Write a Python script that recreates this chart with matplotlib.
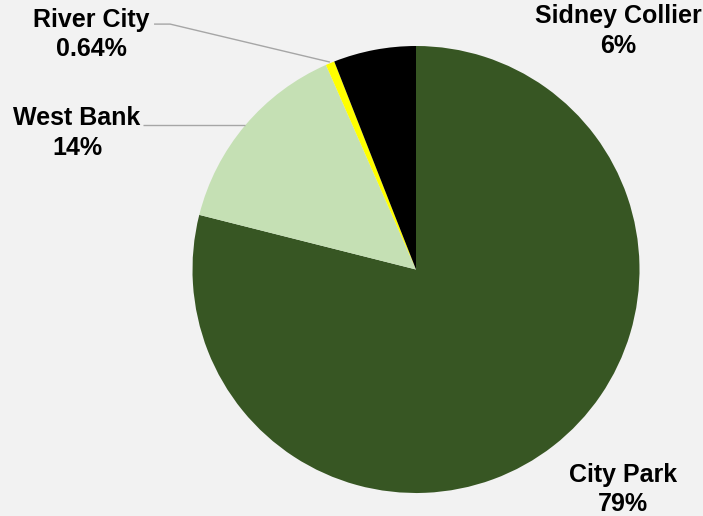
"""Share of total by site - pie chart with outside labels."""
import matplotlib
matplotlib.use("Agg")
import matplotlib.pyplot as plt

# slices, clockwise from 12 o'clock
SITES = ["City Park", "West Bank", "River City", "Sidney Collier"]
SHARES = [78.93, 14.47, 0.64, 5.96]
PCT_LABELS = ["79%", "14%", "0.64%", "6%"]
COLORS = ["#375623", "#c5e0b4", "#ffff00", "#000000"]

# label placement (data units, pie radius = 1) and optional leader lines
LABEL_POS = {
    "City Park": (0.926, -0.985),
    "West Bank": (-1.517, 0.612),
    "River City": (-1.452, 1.052),
    "Sidney Collier": (0.904, 1.066),
}
LEADERS = {
    "West Bank": [(-1.221, 0.647), (-0.765, 0.647)],
    "River City": [(-1.172, 1.098), (-1.10, 1.098), (-0.385, 0.928)],
}

BG = "#f2f2f2"
plt.rcParams["font.family"] = ["Liberation Sans", "DejaVu Sans"]

fig = plt.figure(figsize=(7.03, 5.16), dpi=100, facecolor=BG)
ax = fig.add_axes([0, 0, 1, 1])
ax.set_facecolor(BG)

ax.pie(SHARES, colors=COLORS, startangle=90, counterclock=False,
       radius=1.0, wedgeprops=dict(linewidth=0))

for name, pct in zip(SITES, PCT_LABELS):
    x, y = LABEL_POS[name]
    ax.text(x, y, f"{name}\n{pct}", ha="center", va="center",
            fontsize=18, fontweight="bold", color="#000000",
            linespacing=1.3)

for name, pts in LEADERS.items():
    ax.plot([p[0] for p in pts], [p[1] for p in pts], color="#a6a6a6",
            lw=1, solid_capstyle="butt")

# centre at (416, 269.5) px, radius 223.5 px
R = 223.5
ax.set_xlim((0 - 416) / R, (703 - 416) / R)
ax.set_ylim((269.5 - 516) / R, 269.5 / R)
ax.set_aspect("equal")
ax.axis("off")

fig.savefig("out.png", dpi=100, facecolor=BG)
